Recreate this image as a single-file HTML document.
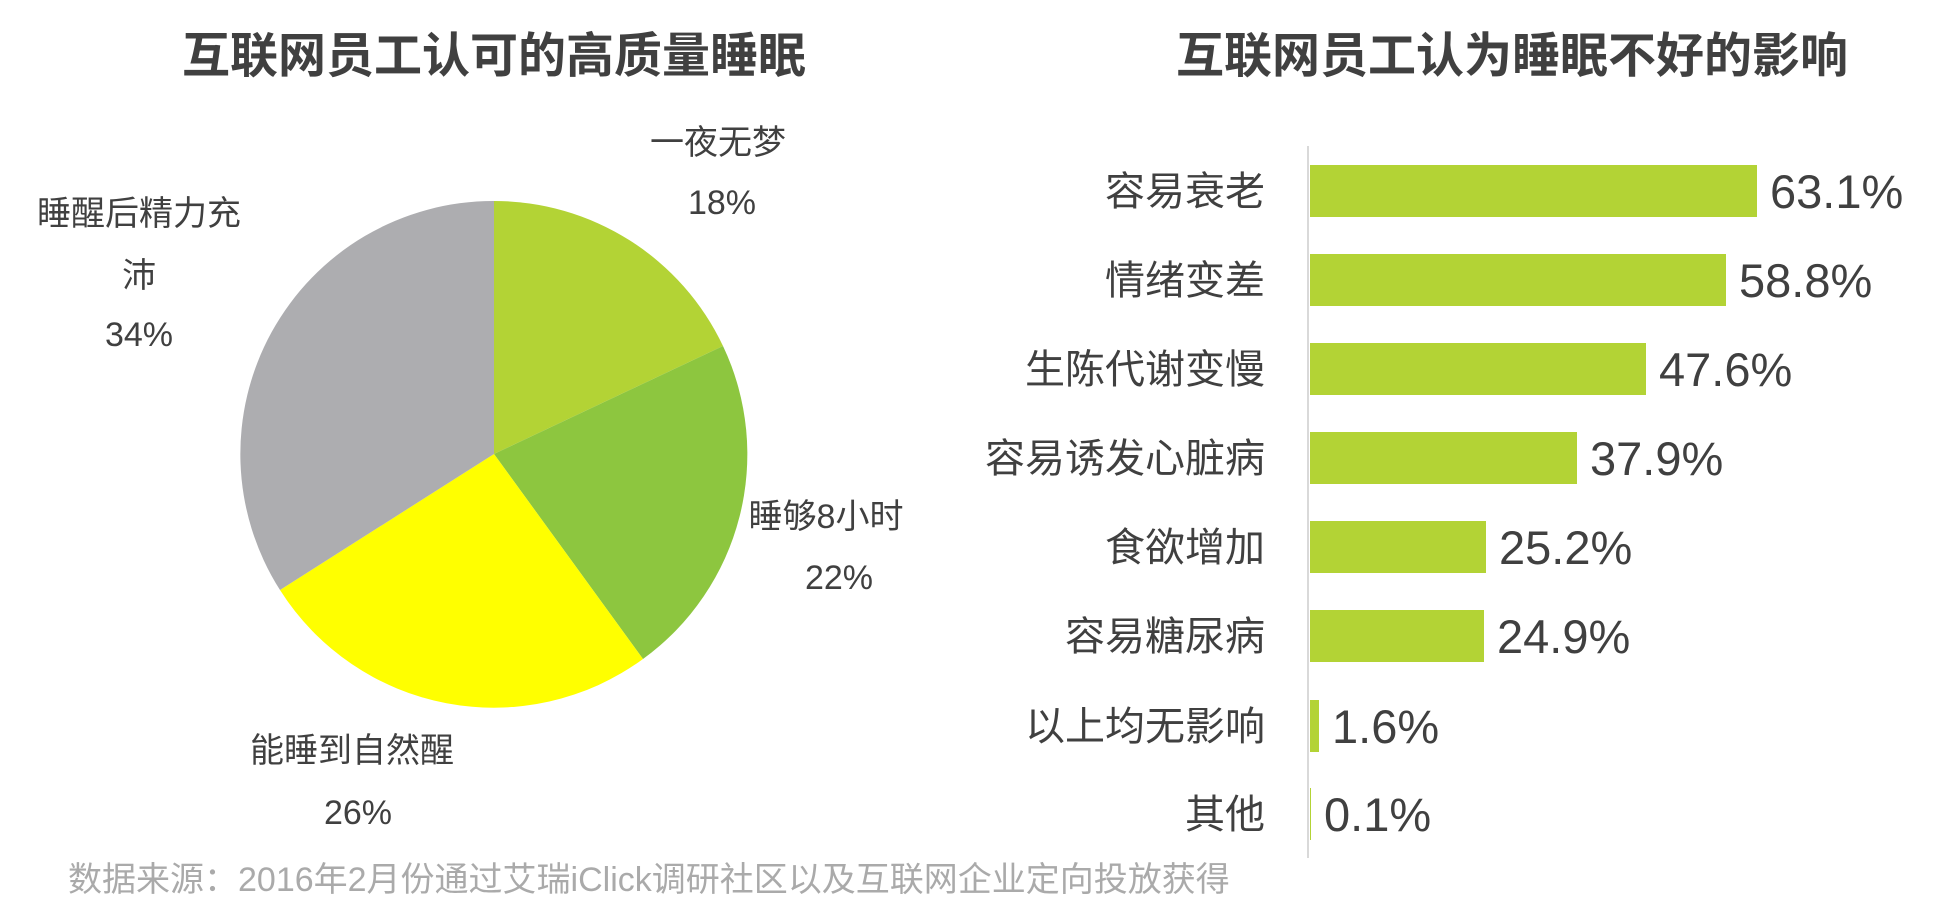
<!DOCTYPE html>
<html><head><meta charset="utf-8"><style>
html,body{margin:0;padding:0;background:#fff;}
svg{display:block;}
text{font-family:"Liberation Sans","Noto Sans CJK SC",sans-serif;fill:#404040;}
</style></head><body>
<svg width="1935" height="919" viewBox="0 0 1935 919" xmlns="http://www.w3.org/2000/svg">
<text x="494" y="72" font-size="48" font-weight="bold" text-anchor="middle" fill="#555">互联网员工认可的高质量睡眠</text>
<text x="1512" y="72" font-size="48" font-weight="bold" text-anchor="middle" fill="#555">互联网员工认为睡眠不好的影响</text>
<g>
<path d="M494,454 L494,201 A253,253 0 0 1 723,346 Z" fill="#b3d335"/>
<path d="M494,454 L723,346 A253,253 0 0 1 643,659 Z" fill="#8dc63f"/>
<path d="M494,454 L643,659 A253,253 0 0 1 280,590 Z" fill="#ffff00"/>
<path d="M494,454 L280,590 A253,253 0 0 1 494,201 Z" fill="#adadb0"/>
</g>
<g font-size="34" text-anchor="middle">
<text x="718" y="154">一夜无梦</text>
<text x="722" y="214">18%</text>
<text x="139" y="225">睡醒后精力充</text>
<text x="139" y="287">沛</text>
<text x="139" y="346">34%</text>
<text x="826" y="528">睡够8小时</text>
<text x="839" y="589">22%</text>
<text x="352" y="762">能睡到自然醒</text>
<text x="358" y="824">26%</text>
</g>
<text x="68" y="891" font-size="34" style="fill:#aaa">数据来源：2016年2月份通过艾瑞iClick调研社区以及互联网企业定向投放获得</text>
<line x1="1308" y1="146" x2="1308" y2="858" stroke="#d9d9d9" stroke-width="2"/>
<g fill="#b3d335">
<rect x="1310" y="165" width="447" height="52"/>
<rect x="1310" y="254" width="416" height="52"/>
<rect x="1310" y="343" width="336" height="52"/>
<rect x="1310" y="432" width="267" height="52"/>
<rect x="1310" y="521" width="176" height="52"/>
<rect x="1310" y="610" width="174" height="52"/>
<rect x="1310" y="700" width="9" height="52"/>
<rect x="1310" y="788" width="1" height="52"/>
</g>
<g font-size="40" text-anchor="end">
<text x="1265" y="205">容易衰老</text>
<text x="1265" y="294">情绪变差</text>
<text x="1265" y="383">生陈代谢变慢</text>
<text x="1265" y="472">容易诱发心脏病</text>
<text x="1265" y="561">食欲增加</text>
<text x="1265" y="650">容易糖尿病</text>
<text x="1265" y="740">以上均无影响</text>
<text x="1265" y="828">其他</text>
</g>
<g font-size="47">
<text x="1770" y="208">63.1%</text>
<text x="1739" y="297">58.8%</text>
<text x="1659" y="386">47.6%</text>
<text x="1590" y="475">37.9%</text>
<text x="1499" y="564">25.2%</text>
<text x="1497" y="653">24.9%</text>
<text x="1332" y="743">1.6%</text>
<text x="1324" y="831">0.1%</text>
</g>
</svg>
</body></html>
